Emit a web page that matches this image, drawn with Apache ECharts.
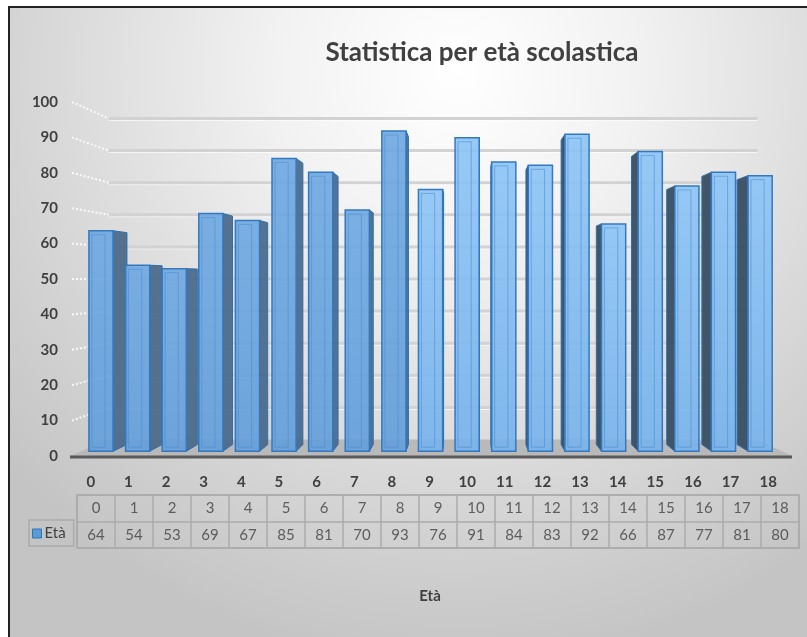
<!DOCTYPE html>
<html>
<head>
<meta charset="utf-8">
<script src="https://cdn.jsdelivr.net/npm/echarts@6/dist/echarts.min.js"></script>
<style>
    html, body { margin: 0; padding: 0; background: #fff; }
    #EtaChart {
        position: absolute;
        left: 8px;
        top: 6px;
        width: 797px;
        height: 629px;
        border-left: 2px solid #222;
        border-top: 2px solid #222;
    }
</style>
</head>
<body>
<div id="EtaChart"></div>
<script>
// dati
const categories = ['0', '1', '2', '3', '4', '5', '6', '7', '8', '9', '10', '11', '12', '13', '14', '15', '16', '17', '18'];
const etaValues = [64, 54, 53, 69, 67, 85, 81, 70, 93, 76, 91, 84, 83, 92, 66, 87, 77, 81, 80];
const yTicks = [0, 10, 20, 30, 40, 50, 60, 70, 80, 90, 100];
const seriesName = 'Età';

// prospettiva (punto di fuga relativo alla griglia)
const VP_X = 0.554;
const VP_Y = 0.5;
const WALL_DEPTH = 0.907;
const BAR_FRONT = 0.973;
const BAR_BACK = 0.935;
const BAR_HALF = 0.33;

const persp = (p, s, vp) => [vp[0] + (p[0] - vp[0]) * s, vp[1] + (p[1] - vp[1]) * s];

const getVp = (cs) => [cs.x + cs.width * VP_X, cs.y + cs.height * VP_Y];

// pareti e pavimento
const renderWall = (params, api) => {
    const cs = params.coordSys;
    const vp = getVp(cs);
    const v = api.value(1);
    const y = api.coord([0, v])[1];
    const fl = [cs.x, y];
    const fr = [cs.x + cs.width, y];
    const bl = persp(fl, WALL_DEPTH, vp);
    const br = persp(fr, WALL_DEPTH, vp);
    const children = [];
    if (v === 0) {
        children.push({
            type: 'polygon',
            shape: { points: [[fl[0] - 2, fl[1]], [fr[0] + 5, fr[1]], br, bl] },
            style: { fill: '#b9b9b9' }
        });
        children.push({
            type: 'line',
            shape: { x1: fl[0] - 2, y1: fl[1] + 1, x2: fr[0] + 5, y2: fr[1] + 1 },
            style: { stroke: '#5a5a5a', lineWidth: 3 }
        });
    } else {
        children.push({
            type: 'line',
            shape: { x1: bl[0], y1: bl[1] + 2, x2: br[0], y2: br[1] + 2 },
            style: { stroke: 'rgba(255,255,255,0.7)', lineWidth: 1 }
        });
        children.push({
            type: 'line',
            shape: { x1: bl[0], y1: bl[1], x2: br[0], y2: br[1] },
            style: { stroke: '#d2d2d2', lineWidth: 3 }
        });
        children.push({
            type: 'line',
            shape: { x1: fl[0], y1: fl[1], x2: bl[0], y2: bl[1] },
            style: { stroke: 'rgba(255,255,255,0.85)', lineWidth: 2, lineDash: [2, 2] }
        });
    }
    return { type: 'group', children: children };
};

// colonne 3D
const renderBar = (params, api) => {
    const cs = params.coordSys;
    const vp = getVp(cs);
    const i = api.value(0);
    const top = api.coord([i, api.value(1)]);
    const base = api.coord([i, 0]);
    const hw = api.size([1, 0])[0] * BAR_HALF;
    const corners = [
        [top[0] - hw, top[1]],
        [top[0] + hw, top[1]],
        [top[0] + hw, base[1]],
        [top[0] - hw, base[1]]
    ];
    const f = corners.map(p => persp(p, BAR_FRONT, vp));
    const b = corners.map(p => persp(p, BAR_BACK, vp));
    const rightSide = top[0] < vp[0];
    const side = rightSide ? [f[1], b[1], b[2], f[2]] : [f[0], b[0], b[3], f[3]];
    const leftHalf = top[0] < cs.x + cs.width * 0.5;
    const frontFill = leftHalf ? 'rgba(98,158,218,0.9)' : 'rgba(118,178,236,0.9)';
    const inset = [
        [f[0][0] + 3, f[0][1] + 4],
        [f[1][0] - 8, f[1][1] + 4],
        [f[2][0] - 8, f[2][1] - 4],
        [f[3][0] + 3, f[3][1] - 4]
    ];
    return {
        type: 'group',
        children: [
            {
                type: 'polygon',
                shape: { points: side },
                style: { fill: rightSide ? 'rgba(72,104,136,0.92)' : 'rgba(56,78,98,0.95)', stroke: '#2e6fb0', lineWidth: 1 }
            },
            {
                type: 'polygon',
                shape: { points: f },
                style: {
                    fill: {
                        type: 'linear', x: 0, y: 0, x2: 0, y2: 1,
                        colorStops: [
                            { offset: 0, color: leftHalf ? 'rgba(110,168,226,0.9)' : 'rgba(140,196,245,0.9)' },
                            { offset: 1, color: frontFill }
                        ]
                    },
                    stroke: '#3479c0',
                    lineWidth: 1.5
                }
            },
            {
                type: 'polygon',
                shape: { points: inset },
                style: { fill: 'none', stroke: 'rgba(70,140,210,0.55)', lineWidth: 1 }
            }
        ]
    };
};

const myChart = echarts.init(document.getElementById('EtaChart'));

const option = {
    backgroundColor: {
        type: 'radial', x: 0.56, y: 0.1, r: 0.95,
        colorStops: [
            { offset: 0, color: '#ffffff' },
            { offset: 0.3, color: '#f2f2f2' },
            { offset: 0.75, color: '#d4d4d4' },
            { offset: 1, color: '#c4c4c4' }
        ]
    },
    textStyle: { fontFamily: 'Lato' },
    title: {
        text: 'Statistica per età scolastica',
        left: 467,
        top: 27,
        textAlign: 'center',
        textStyle: { fontFamily: 'Lato', fontWeight: 'bold', fontSize: 26, color: '#404040' }
    },
    legend: {
        data: [seriesName],
        left: 19,
        top: 512,
        icon: 'rect',
        itemWidth: 9,
        itemHeight: 9,
        padding: [6, 8, 5, 3],
        borderColor: '#ababab',
        borderWidth: 1.5,
        selectedMode: false,
        itemStyle: { color: '#5b9bd5', borderColor: '#2e75b6', borderWidth: 1 },
        textStyle: { fontFamily: 'Lato', fontSize: 15, color: '#404040', padding: [0, 0, 0, -2] }
    },
    grid: [
        { left: 62, right: 20, top: 94, bottom: 181 },
        { left: 67, right: 8, top: 487, height: 53, show: true, borderColor: '#ababab', borderWidth: 1.5, backgroundColor: 'transparent' }
    ],
    xAxis: [
        {
            gridIndex: 0,
            type: 'category',
            data: categories,
            axisLine: { show: false },
            axisTick: { show: false },
            axisLabel: { margin: 19, color: '#404040', fontWeight: 'bold', fontSize: 15, fontFamily: 'Lato' }
        },
        {
            gridIndex: 1,
            type: 'category',
            data: categories,
            axisLine: { show: false },
            axisTick: { show: false },
            axisLabel: { show: false },
            splitLine: { show: true, interval: 0, lineStyle: { color: '#ababab', width: 1.5 } },
            name: seriesName,
            nameLocation: 'middle',
            nameGap: 41,
            nameTextStyle: { fontFamily: 'Lato', fontWeight: 'bold', fontSize: 15, color: '#404040', padding: [0, 16, 0, 0] }
        }
    ],
    yAxis: [
        {
            gridIndex: 0,
            type: 'value',
            min: 0,
            max: 100,
            interval: 10,
            axisLine: { show: false },
            axisTick: { show: false },
            splitLine: { show: false },
            axisLabel: { margin: 14, color: '#404040', fontWeight: 'bold', fontSize: 15, fontFamily: 'Lato' }
        },
        {
            gridIndex: 1,
            type: 'category',
            data: ['cat', 'val'],
            inverse: true,
            axisLine: { show: false },
            axisTick: { show: false },
            axisLabel: { show: false },
            splitLine: { show: true, lineStyle: { color: '#ababab', width: 1.5 } }
        }
    ],
    series: [
        {
            type: 'custom',
            name: 'pareti',
            xAxisIndex: 0,
            yAxisIndex: 0,
            silent: true,
            z: 1,
            renderItem: renderWall,
            encode: { x: 0, y: 1 },
            data: yTicks.map(v => [0, v])
        },
        {
            type: 'custom',
            name: seriesName,
            xAxisIndex: 0,
            yAxisIndex: 0,
            z: 2,
            itemStyle: { color: '#5b9bd5' },
            renderItem: renderBar,
            encode: { x: 0, y: 1 },
            data: etaValues.map((v, i) => [i, v])
        },
        {
            type: 'scatter',
            name: 'tabella',
            xAxisIndex: 1,
            yAxisIndex: 1,
            silent: true,
            symbolSize: 0,
            label: {
                show: true,
                position: 'inside',
                formatter: p => p.value[2],
                fontFamily: 'Lato',
                fontSize: 15,
                color: '#404040'
            },
            data: categories.map((c, i) => [i, 0, c]).concat(etaValues.map((v, i) => [i, 1, v]))
        }
    ]
};

myChart.setOption(option);
window.addEventListener('resize', () => {
    myChart.resize();
});
</script>
</body>
</html>
